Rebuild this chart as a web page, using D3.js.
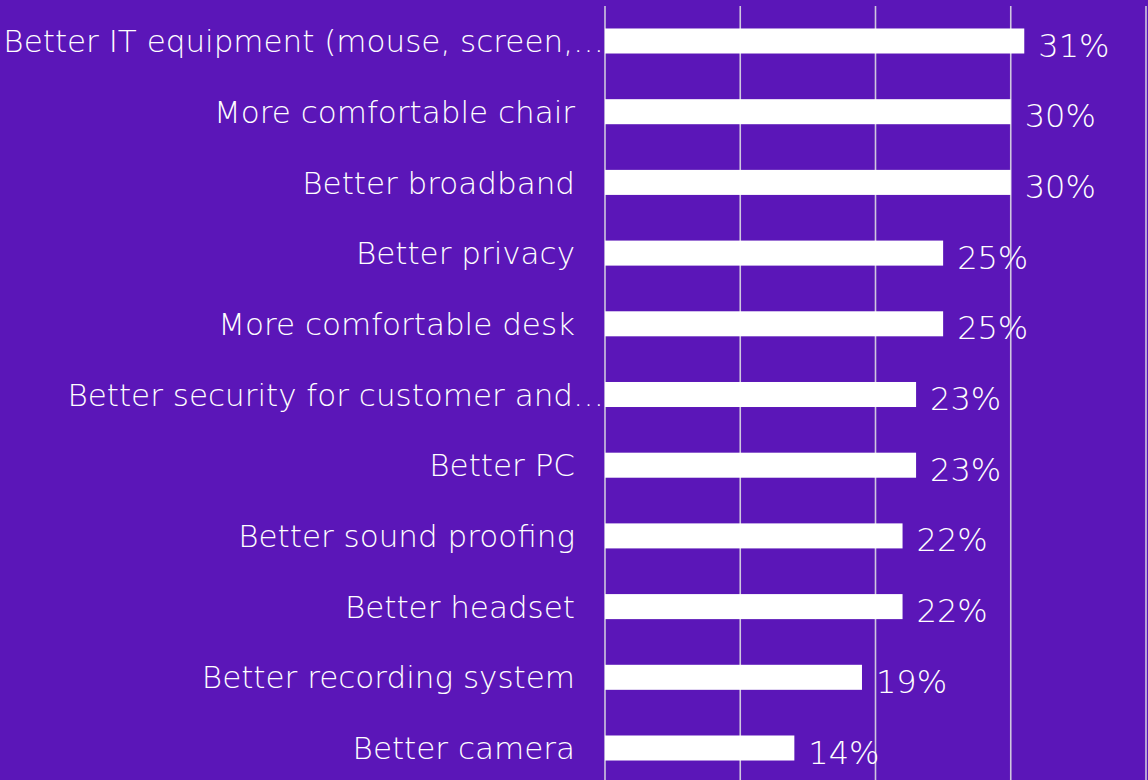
<!DOCTYPE html>
<html>
<head>
<meta charset="utf-8">
<script src="https://cdn.jsdelivr.net/npm/d3@7"></script>
<style>
  html, body { margin: 0; padding: 0; background: #5b16b8; }
  svg { display: block; }
  text { font-family: "DejaVu Sans", sans-serif; fill: #ffffff; }
</style>
</head>
<body>
<svg id="chart" width="1148" height="780"></svg>
<script>
// Workplace improvements, share of respondents (%)
const categories = [
  "Better IT equipment (mouse, screen,…",
  "More comfortable chair",
  "Better broadband",
  "Better privacy",
  "More comfortable desk",
  "Better security for customer and…",
  "Better PC",
  "Better sound proofing",
  "Better headset",
  "Better recording system",
  "Better camera"
];
const values = [31, 30, 30, 25, 25, 23, 23, 22, 22, 19, 14];
const gridTicks = [0, 10, 20, 30, 40];

const W = 1148, H = 780;
const svg = d3.select("#chart");

svg.append("rect").attr("width", W).attr("height", H).attr("fill", "#5b16b8");

const x = d3.scaleLinear().domain([0, 40]).range([605, 1146]);
const y = d3.scaleBand().domain(categories).range([6, 783])
  .paddingInner(0.646).paddingOuter(0.318);

// vertical gridlines
svg.append("g").selectAll("line").data(gridTicks).join("line")
  .attr("x1", d => x(d)).attr("x2", d => x(d))
  .attr("y1", 6).attr("y2", H)
  .attr("stroke", "#cfc6df").attr("stroke-width", 1.6);

// bars
svg.append("g").selectAll("rect").data(categories).join("rect")
  .attr("x", x(0))
  .attr("y", d => y(d))
  .attr("width", (d, i) => x(values[i]) - x(0))
  .attr("height", y.bandwidth())
  .attr("fill", "#ffffff");

// category labels
svg.append("g").selectAll("text").data(categories).join("text")
  .attr("x", d => d.endsWith("…") ? 604 : 575)
  .attr("y", d => y(d) + y.bandwidth() / 2)
  .attr("dy", "0.36em")
  .attr("text-anchor", "end")
  .style("font-size", "31px")
  .style("font-weight", 200)
  .text(d => d);

// value labels
svg.append("g").selectAll("text").data(categories).join("text")
  .attr("x", (d, i) => x(values[i]) + 14)
  .attr("y", d => y(d) + y.bandwidth() / 2 + 4)
  .attr("dy", "0.36em")
  .style("font-size", "32px")
  .style("font-weight", 200)
  .text((d, i) => values[i] + "%");
</script>
</body>
</html>
